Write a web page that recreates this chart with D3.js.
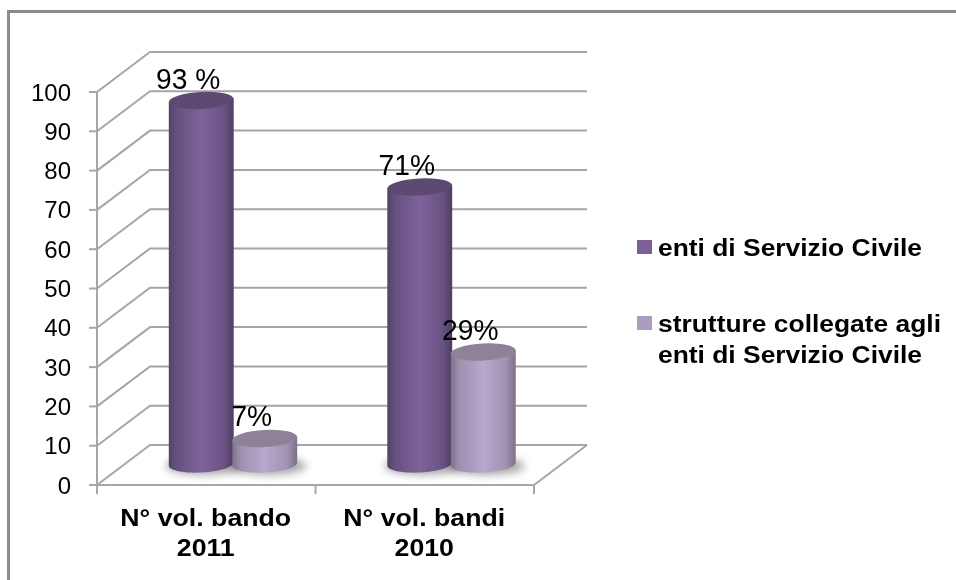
<!DOCTYPE html>
<html><head><meta charset="utf-8">
<script src="https://cdn.jsdelivr.net/npm/d3@7"></script>
<style>html,body{margin:0;padding:0;background:#fff;overflow:hidden}svg{display:block}text{font-family:"Liberation Sans",Arial,sans-serif;fill:#000}</style>
</head><body><svg id="c" width="956" height="580"></svg>
<script>
const categories = [["N° vol. bando","2011"],["N° vol. bandi","2010"]];
const seriesNames = [["enti di Servizio Civile"],["strutture collegate agli","enti di Servizio Civile"]];
const enti = [93, 71];
const strutture = [7, 29];
const labels = [["93 %","71%"],["7%","29%"]];
const yTicks = d3.range(0,101,10);
const depth = {dx:53, dy:-40};

const svg = d3.select("#c");
const defs = svg.append("defs");
function grad(id, stops){
  const g = defs.append("linearGradient").attr("id",id);
  stops.forEach(s=>g.append("stop").attr("offset",s[0]).attr("stop-color",s[1]));
}
grad("g0",[[0,"#54426a"],[.12,"#65507f"],[.5,"#7f629b"],[.85,"#6a5284"],[1,"#4e3f60"]]);
grad("g1",[[0,"#7d7289"],[.12,"#9c8fae"],[.5,"#b7a8cd"],[.85,"#a092b2"],[1,"#7b7086"]]);
defs.append("filter").attr("id","blur").attr("x","-30%").attr("y","-100%").attr("width","160%").attr("height","300%")
  .append("feGaussianBlur").attr("stdDeviation",4);
defs.append("filter").attr("id","soft").attr("x","-5%").attr("y","-5%").attr("width","110%").attr("height","110%")
  .append("feGaussianBlur").attr("stdDeviation",0.3);

function label(g, str, px, py, size, sx, anchor, bold){
  const t = g.append("text").attr("transform",`translate(${px},${py}) scale(${sx},1)`)
    .attr("text-anchor",anchor).attr("font-size",size).text(str);
  if(bold) t.attr("font-weight","bold");
  return t;
}

svg.append("rect").attr("x",8.5).attr("y",11.5).attr("width",965).attr("height",610)
  .attr("fill","#fff").attr("stroke","#8c8c8c").attr("stroke-width",3);

const x = d3.scaleBand().domain([0,1]).range([97,534]);
const y = d3.scaleLinear().domain([0,100]).range([485,92]);
const grid = svg.append("g").attr("stroke","#a6a6a6").attr("stroke-width",2).attr("fill","none");
yTicks.forEach(t=>{
  grid.append("path").attr("d",d3.line()([[97,y(t)],[97+depth.dx,y(t)+depth.dy],[534+depth.dx,y(t)+depth.dy]]));
  grid.append("line").attr("x1",89).attr("x2",97).attr("y1",y(t)).attr("y2",y(t));
});
grid.append("line").attr("x1",97).attr("x2",97).attr("y1",y(100)).attr("y2",y(0));
grid.append("line").attr("x1",97).attr("x2",534).attr("y1",y(0)).attr("y2",y(0));
grid.append("line").attr("x1",534).attr("x2",534+depth.dx).attr("y1",y(0)).attr("y2",y(0)+depth.dy);
[0,1,2].forEach(i=>{
  const px = 97 + i*x.bandwidth();
  grid.append("line").attr("x1",px).attr("x2",px).attr("y1",y(0)).attr("y2",y(0)+9);
});

const txt = svg.append("g").attr("filter","url(#soft)");
yTicks.forEach(t=>label(txt, t, 71, y(t)+8.5, 24, 1, "end", false));
categories.forEach((c,i)=>{
  c.forEach((l,j)=>label(txt, l, x(i)+x.bandwidth()/2-0.5, 526+j*30, 24.5, 1.09, "middle", true));
});

const rx = 32.5, ry = 8.5, tilt = -3;
const series = [enti, strutture];
const midX = depth.dx/2, midY = depth.dy/2;
const offs = [-31.5,32];
const base = i => x(i)+x.bandwidth()/2+midX;
[0,1].forEach(s=>categories.forEach((c,i)=>{
  svg.append("ellipse").attr("cx",base(i)+offs[s]+3).attr("cy",y(0)+midY+1).attr("rx",rx+6).attr("ry",ry)
    .attr("fill","#555").attr("opacity",.55).attr("filter","url(#blur)");
}));
function cyl(cx, top, bottom, s){
  const t = tilt*Math.PI/180;
  const ex = a => cx + rx*Math.cos(a)*Math.cos(t) - ry*Math.sin(a)*Math.sin(t);
  const ey = (a,c) => c + rx*Math.cos(a)*Math.sin(t) + ry*Math.sin(a)*Math.cos(t);
  const pts = [];
  d3.range(0,181,6).forEach(d=>{const a=d*Math.PI/180; pts.push([ex(a),ey(a,bottom)]);});
  pts.push([ex(Math.PI),ey(Math.PI,top)]);
  pts.push([ex(0),ey(0,top)]);
  const g = svg.append("g");
  g.append("path").attr("d",d3.line()(pts)+"Z").attr("fill",`url(#g${s})`);
  g.append("ellipse").attr("cx",cx).attr("cy",top).attr("rx",rx).attr("ry",ry)
   .attr("transform",`rotate(${tilt} ${cx} ${top})`)
   .attr("fill",s===0?"#5d4a72":"#8e8299");
}
categories.forEach((c,i)=>{
  [0,1].forEach(s=>cyl(base(i)+offs[s], y(series[s][i])+midY+1, y(0)+midY-1, s));
});
const lblTxt = svg.append("g").attr("filter","url(#soft)");
[0,1].forEach(s=>categories.forEach((c,i)=>{
  label(lblTxt, labels[s][i], base(i)+offs[s]-13, y(series[s][i])+midY-11, 30, .94, "middle", false);
}));

const legendSwatch = ["#7b5e98","#ab9dc2"];
const legendY = [240,316];
const lg = svg.append("g").attr("filter","url(#soft)");
seriesNames.forEach((n,s)=>{
  lg.append("rect").attr("x",637).attr("y",legendY[s]).attr("width",15).attr("height",14).attr("fill",legendSwatch[s]);
  n.forEach((l,j)=>label(lg, l, 658, legendY[s]+16+j*31, 24, 1.1, "start", true));
});
</script></body></html>
